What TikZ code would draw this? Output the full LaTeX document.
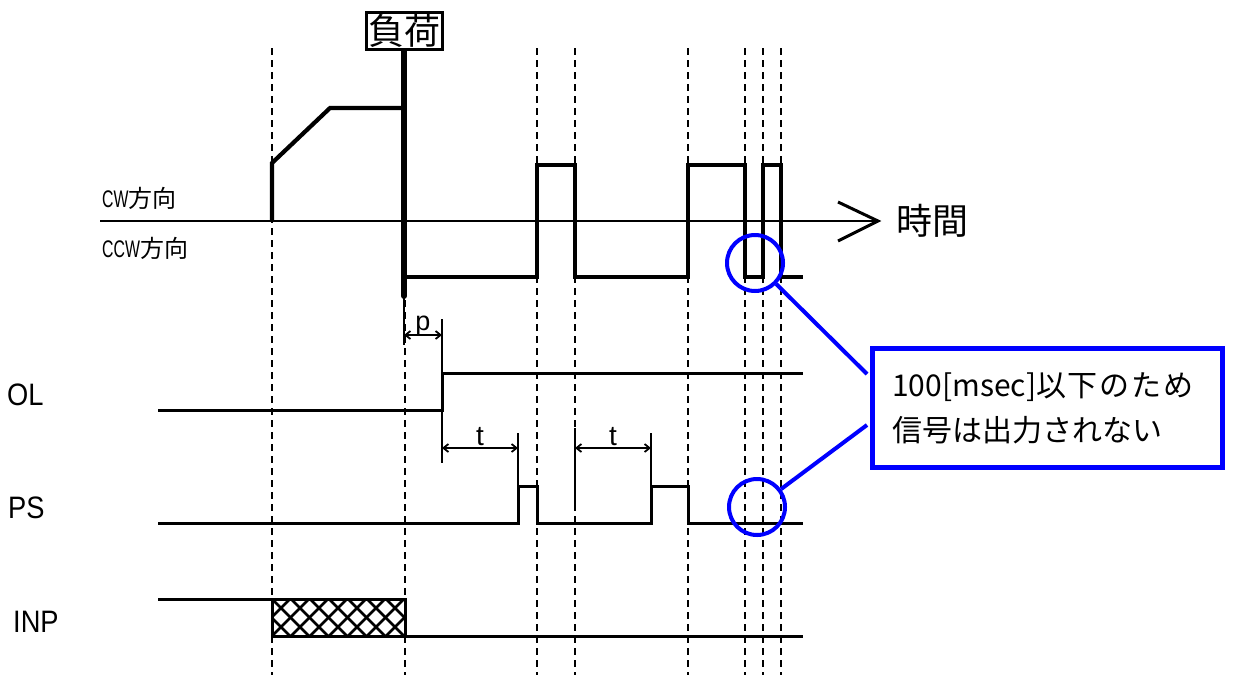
\documentclass[tikz,border=0pt]{standalone}
\usepackage{fontspec}
\newfontfamily\jp{Noto Sans CJK JP}
\newfontfamily\cond[FakeStretch=0.66]{Liberation Sans}
\newfontfamily\condb[FakeStretch=0.88]{Liberation Sans}
\newfontfamily\lat{Liberation Sans}
\newfontfamily\jpwide[LetterSpace=6]{Noto Sans CJK JP}
\usetikzlibrary{arrows.meta}
\begin{document}
\begin{tikzpicture}[x=1pt,y=-1pt,
  guide/.style={line width=2pt, dash pattern=on 6.5pt off 5.5pt},
  wave/.style={line width=4.2pt},
  sig/.style={line width=3pt},
  extline/.style={line width=1.8pt},
  dimline/.style={line width=1.8pt, {Straight Barb[length=5pt,width=8pt]}-{Straight Barb[length=5pt,width=8pt]}},
  bluecirc/.style={circle, draw=blue, line width=4pt, minimum size=56pt, inner sep=0pt},
  calloutline/.style={draw=blue, line width=4pt},
  sidelabel/.style={anchor=base west, inner sep=0pt, font=\condb\fontsize{31}{31}\selectfont},
  dirlabel/.style={anchor=base west, inner sep=0pt, font=\fontsize{24}{24}\selectfont},
]
\useasboundingbox (0,0) rectangle (1233,675);

% dashed guide lines
\foreach \x in {272,405,537,575,688,745,763,781}
  \draw[guide] (\x,48) -- (\x,675);

% load label and line
\node[draw, line width=3pt, inner sep=2pt, anchor=south, font=\jp\fontsize{36}{36}\selectfont] (load) at (404,51) {負荷};
\draw[line width=6pt, line cap=round] (load.south) -- (404,296);

% time axis
\draw[line width=2pt] (100,221) -- (878,221);
\coordinate (tip) at (878,221);
\draw[line width=3pt] (838,202) -- (tip) -- (838,241);
\node[anchor=west, inner sep=0pt, font=\jp\fontsize{36}{36}\selectfont] (time) at (896,221) {時間};

% direction labels
\node[dirlabel] (cw) at (102,207) {{\cond CW}{\jp 方向}};
\node[dirlabel] (ccw) at (102,257) {{\cond CCW}{\jp 方向}};

% main waveform
\draw[wave] (272,221) -- (272,163) -- (330,108) -- (404,108);
\draw[wave] (404,277) -- (537,277) -- (537,165) -- (575,165) -- (575,277)
  -- (688,277) -- (688,165) -- (745,165) -- (745,277) -- (763,277)
  -- (763,165) -- (781,165) -- (781,277) -- (803,277);

% signal labels
\node[sidelabel] (ol) at (7,405) {OL};
\node[sidelabel] (ps) at (8,518) {PS};
\node[sidelabel] (inp) at (13,632) {INP};

% OL
\draw[sig] (158,410) -- (442,410) -- (442,373) -- (803,373);

% p dimension
\draw[extline] (404,298) -- (404,345);
\draw[extline] (442,373) -- (442,319);
\draw[dimline] (404,335) -- (442,335);
\node[anchor=base, inner sep=0pt, font=\lat\fontsize{27}{27}\selectfont] (plabel) at (423,330) {p};

% t dimensions
\draw[extline] (442,410) -- (442,463);
\draw[extline] (518,433) -- (518,486);
\draw[dimline] (442,448) -- (518,448);
\node[anchor=base, inner sep=0pt, font=\lat\fontsize{28}{28}\selectfont] (t1) at (480,445) {t};
\draw[extline] (575,428) -- (575,509);
\draw[extline] (651,433) -- (651,486);
\draw[dimline] (575,448) -- (651,448);
\node[anchor=base, inner sep=0pt, font=\lat\fontsize{28}{28}\selectfont] (t2) at (613,445) {t};

% PS
\draw[sig] (158,523) -- (518,523) -- (518,486) -- (537,486) -- (537,523)
  -- (651,523) -- (651,486) -- (688,486) -- (688,523) -- (803,523);

% INP
\draw[sig] (158,599) -- (272,599);
\begin{scope}
  \clip (272,599) rectangle (405,636);
  \foreach \k in {-3,...,8} {
    \draw[line width=2.6pt] (272+19*\k,599) -- (272+19*\k+37,636);
    \draw[line width=2.6pt] (272+19*\k,636) -- (272+19*\k+37,599);
  }
\end{scope}
\draw[sig] (272,599) rectangle (405,636);
\draw[sig] (405,636) -- (803,636);

% callout
\node[bluecirc] (c1) at (755,263) {};
\node[bluecirc] (c2) at (757,507) {};
\node[draw=blue, line width=5pt, minimum width=350pt, minimum height=119pt, inner sep=0pt, anchor=north west] (note) at (869.5,345.5) {};
\node[anchor=base west, inner sep=0pt, font=\jp\fontsize{30}{30}\selectfont] (line1) at (892,396) {100[msec]{\jpwide 以下のため}};
\node[anchor=base west, inner sep=0pt, font=\jp\fontsize{30}{30}\selectfont] (line2) at (892,441) {信号は出力されない};
\coordinate (n1) at (867,374);
\coordinate (n2) at (867,425);
\draw[calloutline] (c1) -- (n1);
\draw[calloutline] (c2) -- (n2);
\end{tikzpicture}
\end{document}
